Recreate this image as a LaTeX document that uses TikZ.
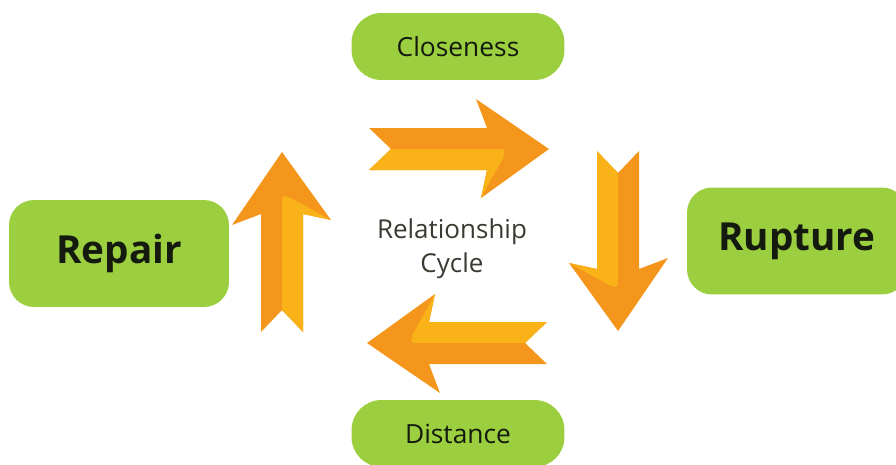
\documentclass[tikz,border=0pt]{standalone}
\usepackage{fontspec}
\setmainfont{Open Sans}
\definecolor{boxgreen}{HTML}{9BCF3F}
\definecolor{arrowdark}{HTML}{F5961C}
\definecolor{arrowlight}{HTML}{F9B217}
\definecolor{textdark}{HTML}{141A0E}
\tikzset{
    stagebox/.style={fill=boxgreen, rounded corners=0.6cm, minimum width=4.26cm, minimum height=1.34cm, text=textdark, font=\fontsize{15}{18}\selectfont},
    bigbox/.style={fill=boxgreen, rounded corners=0.5cm, minimum width=4.4cm, minimum height=2.14cm, text=textdark, font=\fontsize{22}{26}\selectfont\bfseries},
    cyclearrow/.pic={
        \fill[arrowdark] (-90,-21) -- (-68,0) -- (-90,21) -- (28,21) -- (22,49) -- (90,0) -- (17,-50) -- (28,-21) -- cycle;
        \fill[arrowlight] (-68,0) -- (38,0) .. controls (47,0) .. (44,9) -- (22,49) -- (28,21) -- (-90,21) -- cycle;
    }
}
\begin{document}
\begin{tikzpicture}[x=0.02cm, y=-0.02cm]
    \useasboundingbox (0,0) rectangle (896,464);
    \clip (0,0) rectangle (896,464);
    % the four stages
    \node[stagebox] (closeness) at (458,46.5) {Closeness};
    \node[stagebox] (distance) at (458,433.5) {Distance};
    \node[bigbox] (repair) at (119,253.5) {Repair};
    \node[bigbox] (rupture) at (797,241) {Rupture};
    \node[text=textdark!85, align=center, font=\fontsize{14.8}{19.5}\selectfont] (cycle) at (452,249) {Relationship\\Cycle};
    % arrows round the cycle
    \pic at (459,149) {cyclearrow};
    \pic[rotate=-90] at (618,241) {cyclearrow};
    \pic[rotate=180] at (457,343) {cyclearrow};
    \pic[rotate=90] at (282,242) {cyclearrow};
\end{tikzpicture}
\end{document}
